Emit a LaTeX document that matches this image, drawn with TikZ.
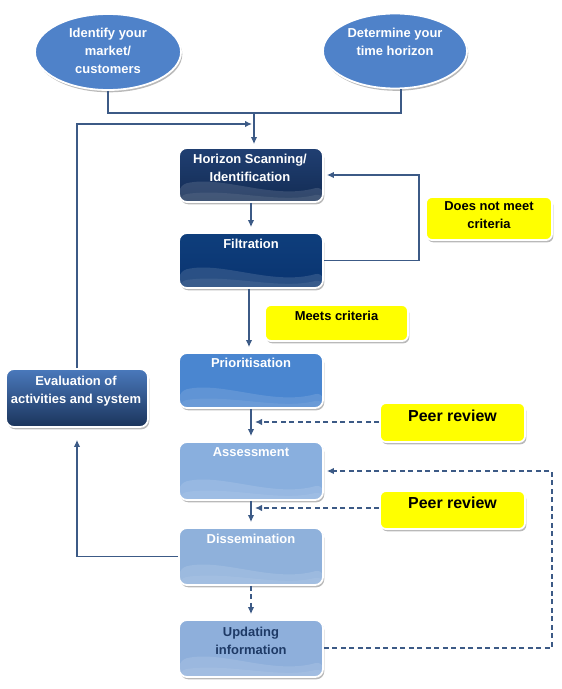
\documentclass[tikz,border=0pt]{standalone}
\usepackage{fontspec}
\setmainfont{Liberation Sans}
\usetikzlibrary{arrows.meta,shapes.geometric,shadows,calc}
\definecolor{lineC}{HTML}{3C5A86}
\definecolor{ellC}{HTML}{4F82C9}
\definecolor{hsTop}{HTML}{203F72}
\definecolor{hsBot}{HTML}{132C54}
\definecolor{filTop}{HTML}{0E3E7C}
\definecolor{filBot}{HTML}{0A3470}
\definecolor{priC}{HTML}{4A86D0}
\definecolor{assC}{HTML}{89AFDE}
\definecolor{disC}{HTML}{8FB1DB}
\definecolor{updC}{HTML}{8EAFDB}
\definecolor{evaTop}{HTML}{4A79BC}
\definecolor{evaBot}{HTML}{1B345B}
\definecolor{yelC}{HTML}{FFFF00}
\definecolor{navyT}{HTML}{1E3A66}
\tikzset{
  x=1bp, y=-1bp,
  shade/.style={drop shadow={shadow xshift=1.3bp, shadow yshift=-2.3bp, fill=black!50, opacity=0.55}},
  box/.style={rectangle, rounded corners=8bp, draw=white, line width=1.8bp, shade, inner sep=0pt,
    minimum width=144bp, minimum height=56bp},
  wave/.style={path picture={
    \coordinate (sw) at (path picture bounding box.south west);
    \coordinate (se) at (path picture bounding box.south east);
    \fill[white, opacity=#1] ($(sw)+(0,-17)$) .. controls ($(sw)!0.3!(se)+(0,-27)$) and ($(sw)!0.65!(se)+(0,-2)$) .. ($(se)+(0,-16)$) -- (se) -- (sw) -- cycle;
    \fill[white, opacity=0.6*#1] ($(sw)+(0,-7)$) .. controls ($(sw)!0.35!(se)+(0,-14)$) and ($(sw)!0.7!(se)+(0,2)$) .. ($(se)+(0,-9)$) -- (se) -- (sw) -- cycle;
  }},
  ybox/.style={rectangle, rounded corners=6bp, draw=white, line width=1.8bp, shade, fill=yelC, inner sep=0pt},
  ell/.style={ellipse, fill=ellC, draw=white, line width=1.8bp, shade, inner sep=0pt},
  txt/.style={font=\fontsize{13}{18}\selectfont\bfseries, align=center, inner sep=0pt},
  bigtxt/.style={font=\fontsize{16}{19}\selectfont\bfseries, align=center, inner sep=0pt},
  line/.style={draw=lineC, line width=1.3bp},
  arr/.style={line, -{Latex[length=7bp,width=6.5bp]}},
  darr/.style={arr, dash pattern=on 5bp off 3.5bp},
}
\begin{document}
\begin{tikzpicture}
\useasboundingbox (0,0) rectangle (562,689);
% ellipses
\node[ell, minimum width=146bp, minimum height=76bp] (ell1) at (108,52) {};
\node[txt, white] (ell1t) at (108,51) {Identify your\\market/\\customers};
\node[ell, minimum width=144bp, minimum height=75bp] (ell2) at (395,51) {};
\node[txt, white] (ell2t) at (395,42) {Determine your\\time horizon};
% main boxes
\node[box, top color=hsTop, bottom color=hsBot, wave=0.13, minimum height=54bp] (hs) at (251,175) {};
\node[txt, white] (hst) at (250,168) {Horizon Scanning/\\Identification};
\node[box, top color=filTop, bottom color=filBot, wave=0.13, minimum height=55bp] (fil) at (251,260.5) {};
\node[txt, white] (filt) at (251,244) {Filtration};
\node[box, fill=priC, wave=0.12, minimum height=55bp] (pri) at (251,380.5) {};
\node[txt, white] (prit) at (251,363) {Prioritisation};
\node[box, fill=assC, wave=0.12, minimum height=58bp] (ass) at (251,471) {};
\node[txt, white] (asst) at (251,452) {Assessment};
\node[box, fill=disC, wave=0.12, minimum height=57bp] (dis) at (251,556.5) {};
\node[txt, white] (dist) at (251,539) {Dissemination};
\node[box, fill=updC, wave=0.12, minimum height=57bp] (upd) at (251,648.5) {};
\node[txt, navyT] (updt) at (251,640.5) {Updating\\information};
\node[box, top color=evaTop, bottom color=evaBot, minimum width=142bp, minimum height=58bp] (eva) at (77,398) {};
\node[txt, white] (evat) at (76,391) {Evaluation of\\activities and system};
% yellow boxes
\node[ybox, minimum width=126bp, minimum height=43bp] (dnm) at (489,218.5) {};
\node[txt] (dnmt) at (489,215.5) {Does not meet\\criteria};
\node[ybox, minimum width=143bp, minimum height=36bp] (mc) at (336.5,323) {};
\node[txt] (mct) at (336.5,316) {Meets criteria};
\node[ybox, minimum width=145bp, minimum height=39bp] (pr1) at (452.5,422.5) {};
\node[bigtxt] (pr1t) at (452.5,416) {Peer review};
\node[ybox, minimum width=145bp, minimum height=38bp] (pr2) at (452.5,510) {};
\node[bigtxt] (pr2t) at (452.5,503) {Peer review};
% coordinates
\coordinate (m) at (254,113);
\coordinate (tl) at (252,124);
\coordinate (loopA) at (419,0);
\coordinate (loopB) at (552,0);
% connectors
\draw[line] (ell1.south) |- (m) -| ($(ell2.south)+(6,0)$);
\draw[arr, shorten >=3bp] (m) -- (m |- hs.north);
\draw[arr] (eva.north) |- (tl);
\draw[arr, shorten >=5bp] (hs.south) -- (fil.north);
\draw[arr, shorten >=3bp] (fil.east) -| (loopA |- hs.east) -- (hs.east);
\draw[arr, shorten >=5bp] ($(fil.south)+(-2,0)$) -- ($(pri.north)+(-2,0)$);
\draw[arr, shorten >=5bp] (pri.south) -- (ass.north);
\draw[darr, shorten >=4bp] ($(pr1.west)+(0,-0.5)$) -- ($(pr1.west -| pri.south)+(0,-0.5)$);
\draw[arr, shorten >=5bp] (ass.south) -- (dis.north);
\draw[darr, shorten >=4bp] ($(pr2.west)+(0,-2)$) -- ($(pr2.west -| ass.south)+(0,-2)$);
\draw[arr, shorten >=12bp] (dis.west) -| (eva.south);
\draw[darr, shorten >=5bp] (dis.south) -- (upd.north);
\draw[darr, shorten >=3bp] ($(upd.east)+(0,-0.5)$) -| (loopB |- ass.east) -- (ass.east);
\end{tikzpicture}
\end{document}
